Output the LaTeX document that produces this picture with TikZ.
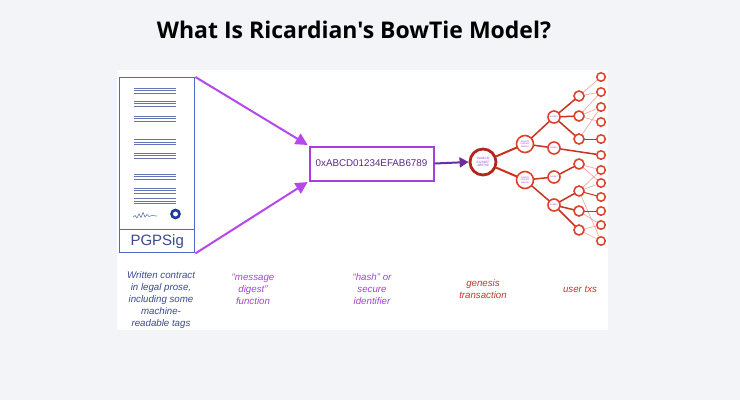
\documentclass[tikz,border=0pt]{standalone}
\usepackage{fontspec}
\setmainfont{Liberation Sans}
\newfontfamily\titlefont{Open Sans}
\usetikzlibrary{arrows.meta}
\definecolor{bgc}{HTML}{F2F4F8}
\definecolor{docblue}{HTML}{5566C4}
\definecolor{lineblue}{HTML}{6574B4}
\definecolor{sealblue}{HTML}{1E3A9A}
\definecolor{textblue}{HTML}{3A4A8E}
\definecolor{arrpurple}{HTML}{B548EC}
\definecolor{boxpurple}{HTML}{A93FDB}
\definecolor{hashtext}{HTML}{5A2A86}
\definecolor{darkpurple}{HTML}{6A2C9E}
\definecolor{lblpurple}{HTML}{A445D4}
\definecolor{genred}{HTML}{B3261E}
\definecolor{treered}{HTML}{E0412B}
\definecolor{edgered}{HTML}{C8321F}
\definecolor{pinkline}{HTML}{F2A29A}
\definecolor{lblred}{HTML}{C0392B}
\begin{document}
\begin{tikzpicture}[x=1pt,y=-1pt,
  docline/.style={draw=lineblue, line width=0.9pt},
  purplearr/.style={draw=arrpurple, line width=2pt, -{Triangle[length=12pt,width=12pt]}},
  tnode/.style={circle, draw=treered, fill=white, inner sep=0pt, line width=1.6pt},
  lvlone/.style={tnode, minimum size=17pt, font=\fontsize{2.2}{2.6}\selectfont, text=lblpurple, align=center},
  lvltwo/.style={tnode, minimum size=12pt, font=\fontsize{2.2}{2.6}\selectfont, text=lblpurple},
  lvlthree/.style={tnode, minimum size=10pt},
  leaf/.style={tnode, minimum size=8.5pt, line width=1.5pt},
  thickedge/.style={draw=edgered, line width=2pt},
  midedge/.style={draw=edgered, line width=1.5pt},
  thinedge/.style={draw=pinkline, line width=0.6pt},
  lbl/.style={font=\itshape\fontsize{9.7}{12}\selectfont, align=center}
]
\fill[bgc] (0,0) rectangle (740,400);
\useasboundingbox (0,0) rectangle (740,400);
\fill[white] (117,70) rectangle (608,330);

\node[font=\titlefont\bfseries\fontsize{23}{26}\selectfont] (title) at (354,30) {What Is Ricardian's BowTie Model?};

% document
\node[draw=docblue, line width=1.4pt, minimum width=75pt, minimum height=152pt, anchor=north west, inner sep=0pt] (doc) at (119,77) {};
\node[draw=docblue, line width=1.4pt, minimum width=75pt, minimum height=23pt, anchor=north west, inner sep=0pt, text=textblue, font=\fontsize{15}{17}\selectfont] (sig) at (119,229) {PGPSig};
\foreach \y in {88,90.6,93.2, 101,103.6,106.2, 116,118.6,121.2, 139.7,142.3,144.9, 153,155.6,158.2, 174,176.6,179.2, 188,190.6,193.2, 198.7,201.3,203.9}
  \draw[docline] (134,\y) -- (176,\y);
\draw[draw=lineblue, line width=0.6pt] plot coordinates {(133,217) (135,215.5) (137,218) (139,214) (141,217.5) (143,212.5) (145,217) (147,214.5) (149,216.5) (152,215.5) (157,216)};
\node[circle, draw=sealblue, line width=2.6pt, minimum size=8pt, inner sep=0pt] (seal) at (175.5,214) {};

% hash box
\node[draw=boxpurple, line width=2pt, minimum width=124pt, minimum height=34pt, inner sep=0pt, text=hashtext, font=\fontsize{9.8}{12}\selectfont] (hash) at (371.5,163.5) {0xABCD01234EFAB6789};

\draw[purplearr, shorten >=1pt] (doc.north east) -- (hash.north west);
\draw[purplearr, shorten >=1pt] (sig.south east) -- (hash.south west);

% genesis
\node[circle, draw=genred, fill=white, line width=2.8pt, minimum size=26pt, inner sep=0pt, text=lblpurple, align=center, font=\fontsize{3.2}{3.8}\selectfont] (g) at (483,162) {0xABCD\\01234EF\\AB6789};
\draw[draw=darkpurple, line width=2pt, -{Triangle[length=9pt,width=10pt]}] (hash.east) -- (g.west);

% tree coordinates
\coordinate (pa1) at (525,144); \coordinate (pa2) at (525,180);
\coordinate (pb1) at (554,117); \coordinate (pb2) at (554,148);
\coordinate (pb3) at (554,177); \coordinate (pb4) at (554,205);
\foreach \i/\y in {1/96,2/116,3/139,4/164,5/191,6/211,7/230}
  \coordinate (pc\i) at (579,\y);
\foreach \i/\y in {1/77,2/92,3/107,4/122,5/139,6/155,7/170,8/183,9/197,10/211,11/225,12/241}
  \coordinate (pd\i) at (601,\y);

% edges
\draw[thinedge] (pc1) -- (pd1);
\draw[thinedge] (pc1) -- (pd2);
\draw[thinedge] (pc2) -- (pd2);
\draw[thinedge] (pc2) -- (pd3);
\draw[thinedge] (pc2) -- (pd4);
\draw[thinedge] (pc3) -- (pd3);
\draw[thinedge] (pc4) -- (pd7);
\draw[thinedge] (pc4) -- (pd8);
\draw[thinedge] (pc5) -- (pd7);
\draw[thinedge] (pc5) -- (pd8);
\draw[thinedge] (pc5) -- (pd12);
\draw[thinedge] (pc6) -- (pd11);
\draw[thinedge] (pc7) -- (pd11);
\draw[thinedge] (pc7) -- (pd12);
\draw[midedge, line width=1pt] (pc3) -- (pd5);
\draw[midedge, line width=1pt] (pc5) -- (pd9);
\draw[midedge, line width=1pt] (pc6) -- (pd10);
\draw[thickedge] (g) -- (pa1);
\draw[thickedge] (g) -- (pa2);
\draw[midedge] (pa1) -- (pb1);
\draw[midedge] (pa1) -- (pb2);
\draw[midedge] (pa2) -- (pb3);
\draw[midedge] (pa2) -- (pb4);
\draw[midedge] (pb1) -- (pc1);
\draw[midedge] (pb1) -- (pc2);
\draw[midedge] (pb1) -- (pc3);
\draw[midedge] (pb2) -- (pd6);
\draw[midedge] (pb3) -- (pc4);
\draw[midedge] (pb4) -- (pc5);
\draw[midedge] (pb4) -- (pc6);
\draw[midedge] (pb4) -- (pc7);

% tree nodes
\node[lvlone] (a1) at (pa1) {0xABCD\\01234EF\\AB6789};
\node[lvlone] (a2) at (pa2) {0xABCD\\01234EF\\AB6789};
\foreach \i in {1,...,4} \node[lvltwo] (b\i) at (pb\i) {0xAB12};
\foreach \i in {1,...,7} \node[lvlthree] (c\i) at (pc\i) {};
\foreach \i in {1,...,12} \node[leaf] (d\i) at (pd\i) {};

% labels
\node[lbl, text=textblue, anchor=north] (l1) at (161,268) {Written contract\\in legal prose,\\including some\\machine-\\readable tags};
\node[lbl, text=lblpurple, anchor=north] (l2) at (253,270) {“message\\digest”\\function};
\node[lbl, text=lblpurple, anchor=north] (l3) at (372,270) {“hash” or\\secure\\identifier};
\node[lbl, text=lblred, anchor=north] (l4) at (483,276) {genesis\\transaction};
\node[lbl, text=lblred] (l5) at (580,289) {user txs};
\end{tikzpicture}
\end{document}
